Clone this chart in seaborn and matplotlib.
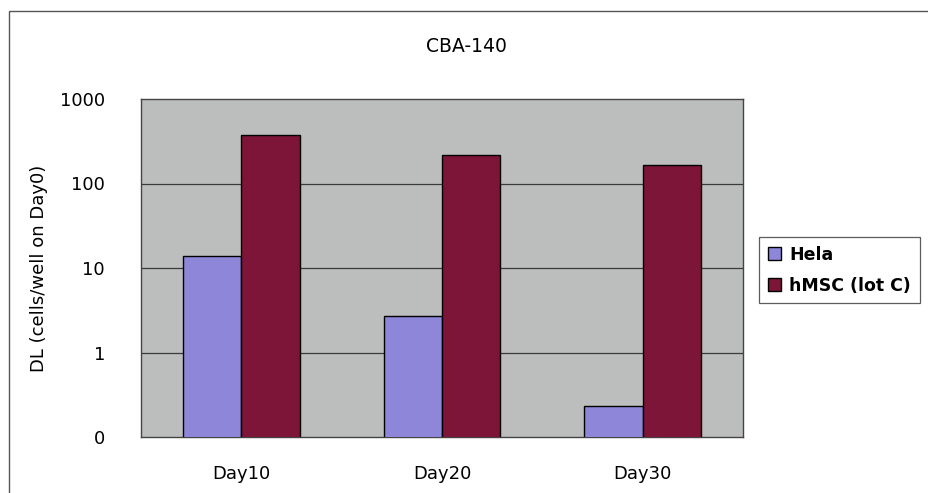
import numpy as np
import pandas as pd
import matplotlib
matplotlib.use("Agg")
import matplotlib.pyplot as plt
from matplotlib.ticker import FixedLocator, FixedFormatter, NullLocator
from matplotlib.patches import Rectangle
import seaborn as sns

# ---- data ----
title = "CBA-140"
categories = ["Day10", "Day20", "Day30"]
series_names = ["Hela", "hMSC (lot C)"]
hela = [14.0, 2.7, 0.235]
hmsc = [370.0, 220.0, 165.0]
y_ticks = [0.1, 1, 10, 100, 1000]
y_tick_labels = ["0", "1", "10", "100", "1000"]
y_label = "DL (cells/well on Day0)"

df = pd.DataFrame({
    "day": categories * 2,
    "series": [series_names[0]] * 3 + [series_names[1]] * 3,
    "value": hela + hmsc,
})

sns.set_theme(style="white")
plt.rcParams["font.family"] = ["DejaVu Sans"]
plt.rcParams["text.color"] = "black"
plt.rcParams["axes.labelcolor"] = "black"

fig = plt.figure(figsize=(9.29, 4.93), dpi=100)
W, H = 929, 493
ax = fig.add_axes([141 / W, 1 - 437 / H, (743 - 141) / W, (437 - 99) / H])

bg = "#bcbebd"
ax.set_facecolor(bg)

colors = {"Hela": "#8e86d8", "hMSC (lot C)": "#7c1538"}
sns.barplot(data=df, x="day", y="value", hue="series", order=categories,
            hue_order=series_names, palette=colors, width=0.58, gap=0,
            edgecolor="black", linewidth=1.0, saturation=1, ax=ax,
            legend=True, zorder=3)
ax.set_yscale("log")
ax.set_ylim(0.1, 1000)
ax.set_xlim(-0.5, 2.5)

ax.yaxis.set_major_locator(FixedLocator(y_ticks))
ax.yaxis.set_major_formatter(FixedFormatter(y_tick_labels))
ax.yaxis.set_minor_locator(NullLocator())
for v in [1, 10, 100]:
    ax.axhline(v, color="#3a3a3a", linewidth=0.9, zorder=1)

ax.tick_params(axis="y", length=0, pad=26, labelsize=13, colors="black")
ax.tick_params(axis="x", length=0, pad=20, labelsize=13, colors="black")
ax.set_xticks(range(3))
ax.set_xticklabels(categories)
ax.set_xticks([0.5, 1.5], minor=True)
ax.tick_params(axis="x", which="minor", direction="in", length=4, width=0.8,
               color="#333333")

ax.set_xlabel("")
ax.set_ylabel(y_label, fontsize=13, color="black")
ax.yaxis.set_label_coords(-0.155, 0.5)

for s in ax.spines.values():
    s.set_visible(True)
    s.set_color("#444444")
    s.set_linewidth(1.0)

fig.text(466 / W, 1 - 47 / H, title, ha="center", va="center", fontsize=13.5,
         color="black")

leg = ax.legend(loc="upper left", bbox_to_anchor=(759 / W, 1 - 237 / H),
                bbox_transform=fig.transFigure, frameon=True, fontsize=12.5,
                handlelength=0.75, handleheight=0.75, handletextpad=0.5,
                labelspacing=0.75, borderpad=0.5, fancybox=False,
                borderaxespad=0)
leg.get_frame().set_edgecolor("#333333")
leg.get_frame().set_linewidth(0.9)
for t in leg.get_texts():
    t.set_fontweight("bold")
    t.set_color("black")

# outer chart frame
fig.patches.append(Rectangle((9 / W, -0.05), 1.0, 1 - 11 / H + 0.05,
                             transform=fig.transFigure, fill=False,
                             edgecolor="#555555", linewidth=1.0))

fig.savefig("out.png", dpi=100, facecolor="white")
